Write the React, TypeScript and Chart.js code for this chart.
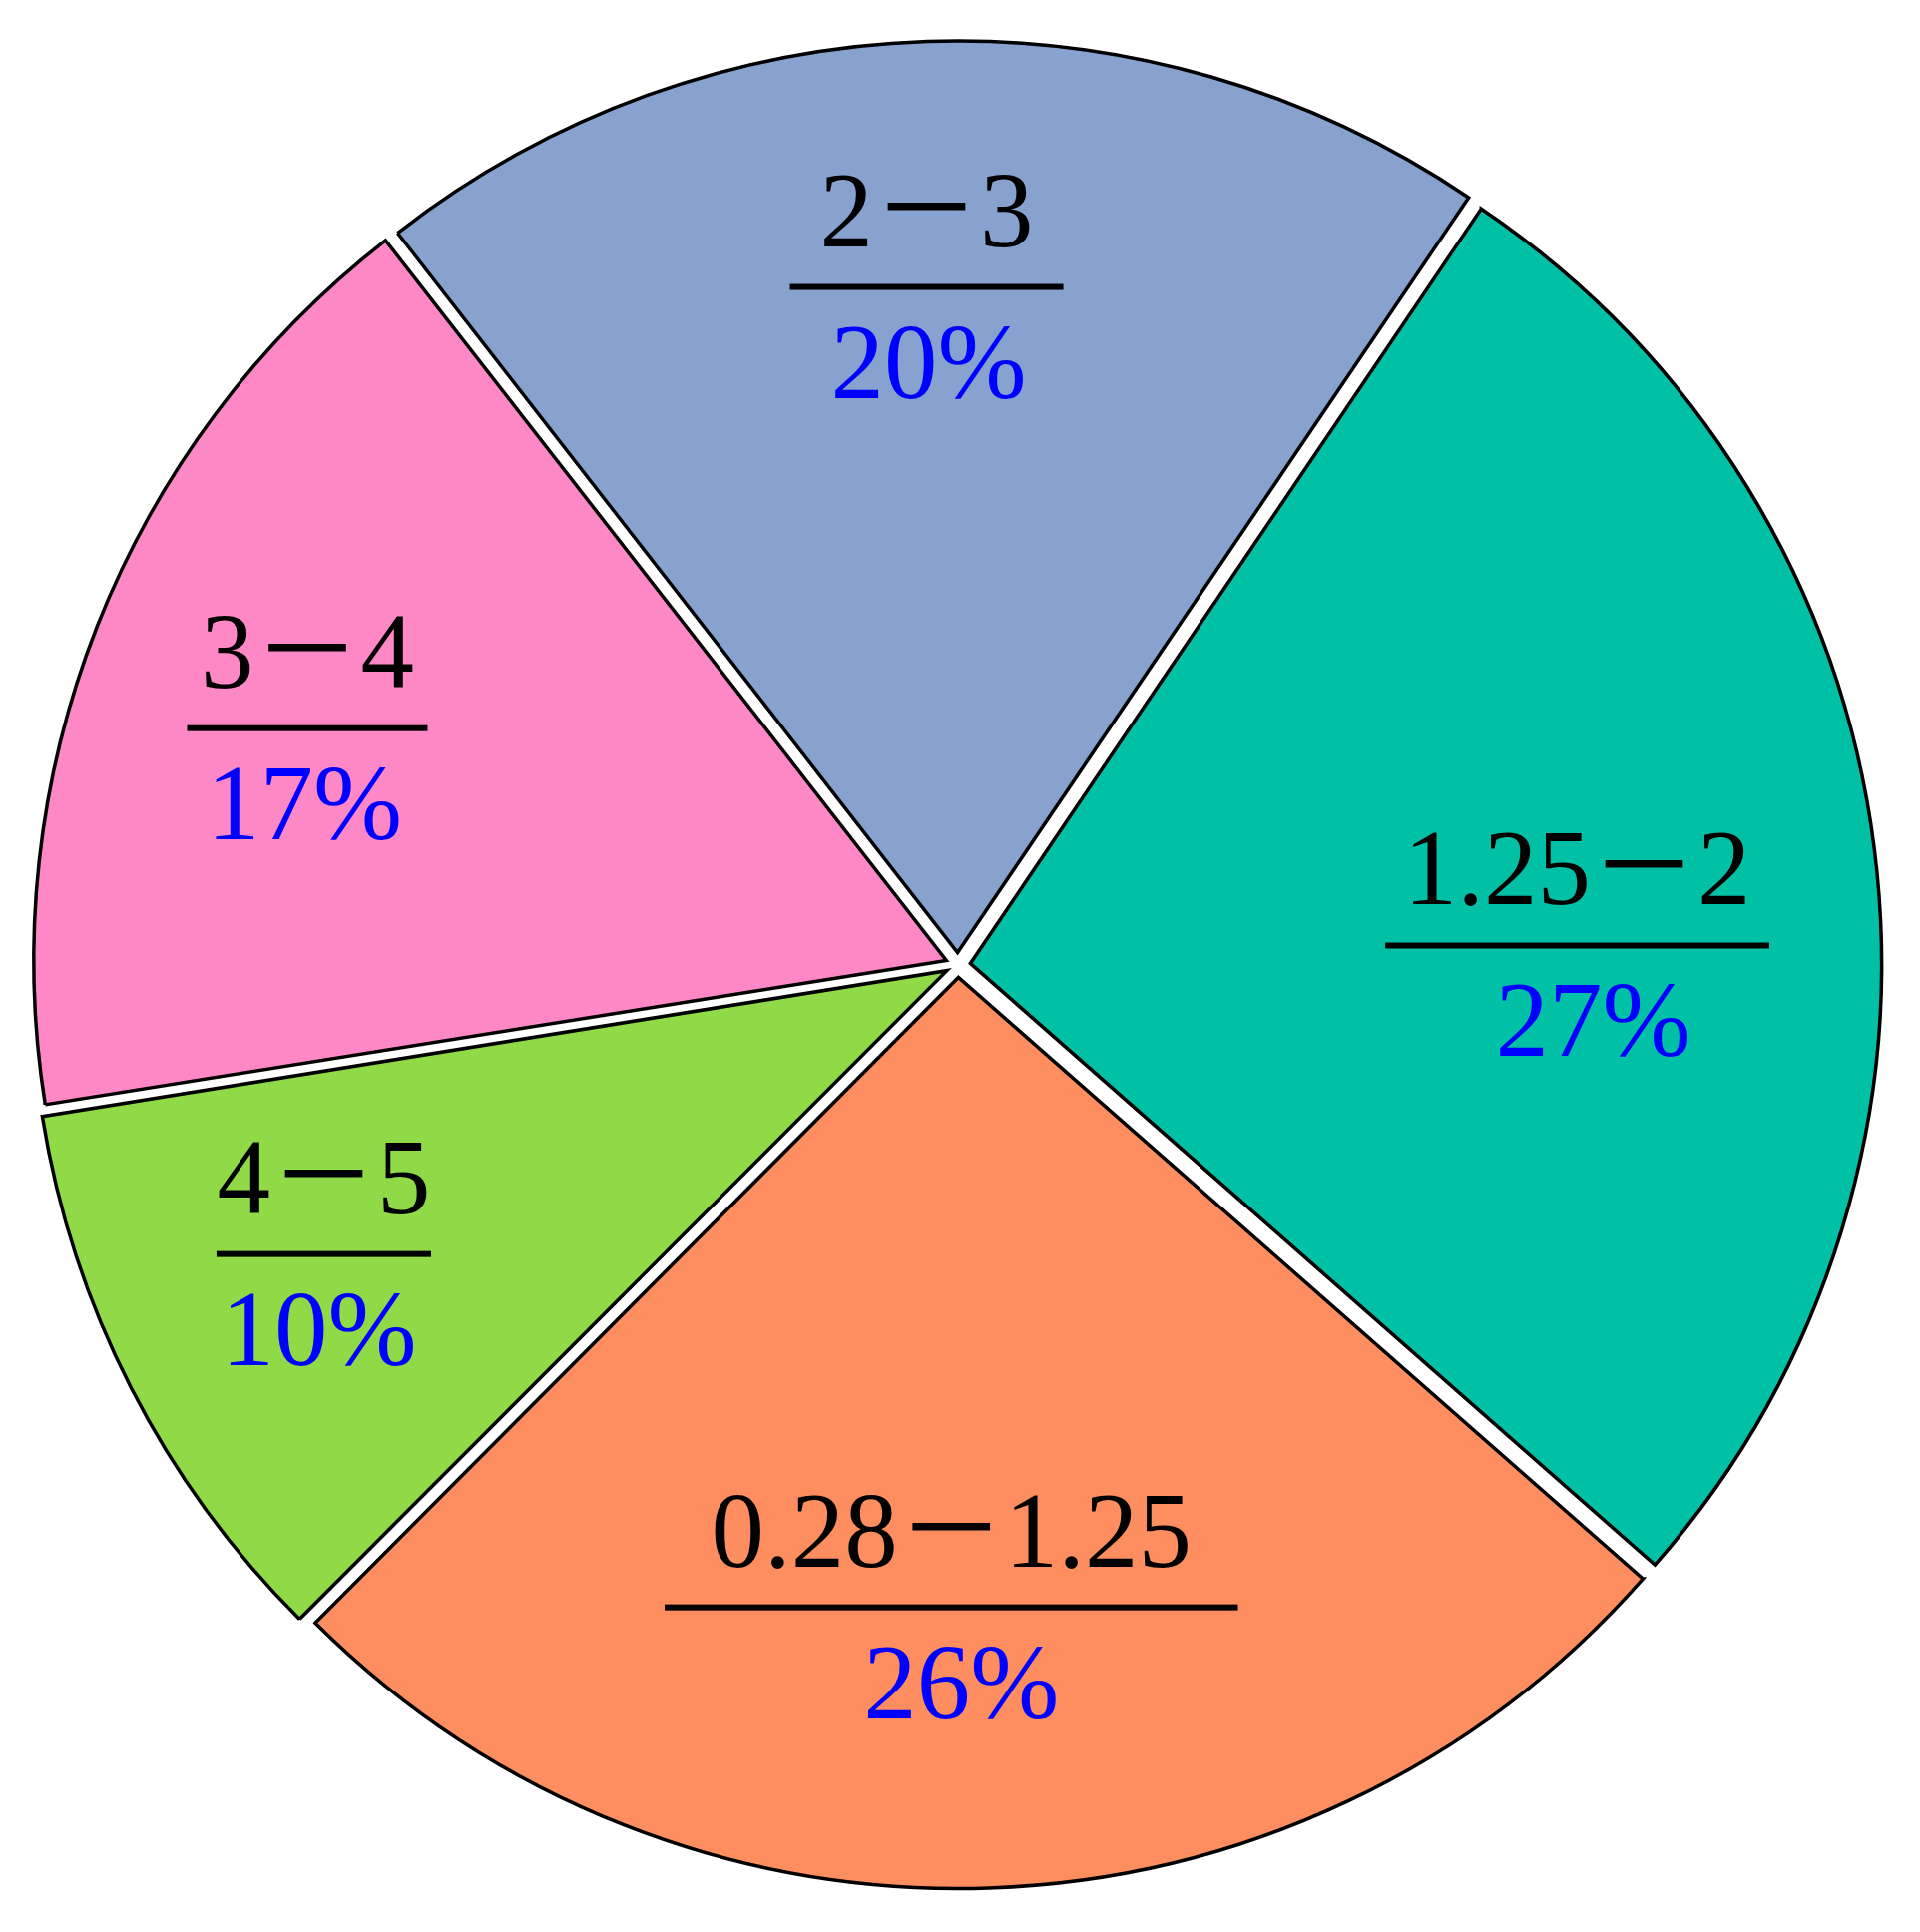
import { useEffect, useRef } from "react";
import { Chart, registerables } from "chart.js";

Chart.register(...registerables);

// ---- data ----
const categories = ["2－3", "1.25－2", "0.28－1.25", "4－5", "3－4"];
const shares = [20, 27, 26, 10, 17];
const sliceColors = ["#87A2CE", "#00C1A6", "#FE8D5F", "#8FDA46", "#FE88C5"];

const fractionLabels = {
  id: "fractionLabels",
  afterDatasetsDraw(chart: any, _args: any, opts: any) {
    const meta = chart.getDatasetMeta(0);
    const ctx = chart.ctx as CanvasRenderingContext2D;
    const total = shares.reduce((a, b) => a + b, 0);
    meta.data.forEach((arc: any, i: number) => {
      const { x, y, startAngle, endAngle, outerRadius } = arc.getProps(
        ["x", "y", "startAngle", "endAngle", "outerRadius"],
        true
      );
      const mid = (startAngle + endAngle) / 2 + (opts.angleShift[i] * Math.PI) / 180;
      const r = outerRadius * opts.radius[i];
      const cx = x + Math.cos(mid) * r;
      const cy = y + Math.sin(mid) * r;
      ctx.save();
      ctx.font = `${opts.fontSize}px 'Liberation Serif', 'Times New Roman', 'Noto Sans CJK SC', serif`;
      ctx.textAlign = "center";
      ctx.textBaseline = "alphabetic";
      const top = categories[i];
      const pct = Math.round((shares[i] / total) * 100) + "%";
      const w = Math.max(ctx.measureText(top).width, ctx.measureText(pct).width) + opts.lineExtra[i];
      ctx.fillStyle = "#000000";
      ctx.fillText(top, cx, cy - opts.topGap);
      ctx.fillRect(cx - w / 2, cy - opts.lineWidth / 2, w, opts.lineWidth);
      ctx.fillStyle = "#0000FF";
      ctx.fillText(pct, cx + opts.pctShift[i], cy + opts.bottomGap);
      ctx.restore();
    });
  },
};

export default function App() {
  const ref = useRef<HTMLCanvasElement | null>(null);
  useEffect(() => {
    if (!ref.current) return;
    const chart = new Chart(ref.current, {
      type: "pie",
      data: {
        labels: categories,
        datasets: [
          {
            data: shares,
            backgroundColor: sliceColors,
            borderColor: "#000000",
            borderWidth: 3.5,
            borderJoinStyle: "miter",
            offset: 50,
            radius: 913,
          } as any,
        ],
      },
      options: {
        responsive: false,
        animation: false,
        rotation: -37.9,
        layout: { padding: { left: 0, right: 4, top: 0, bottom: 2 } },
        plugins: {
          legend: { display: false },
          tooltip: { enabled: false },
          fractionLabels: {
            radius: [0.745, 0.68, 0.705, 0.765, 0.76],
            angleShift: [-0.75, 5.5, 2.5, 2.6, -1.5],
            fontSize: 107,
            topGap: 41,
            bottomGap: 111,
            lineWidth: 6,
            lineExtra: [60, 37, 93, 1, 27],
            pctShift: [2, 16, 10, -5, -3],
          },
        } as any,
      },
      plugins: [fractionLabels],
    });
    return () => chart.destroy();
  }, []);
  return (
    <div style={{ position: "absolute", left: 0, top: 0, width: 1924, height: 1936, background: "#ffffff" }}>
      <canvas ref={ref} width={1924} height={1936} style={{ width: 1924, height: 1936, display: "block" }} />
    </div>
  );
}
